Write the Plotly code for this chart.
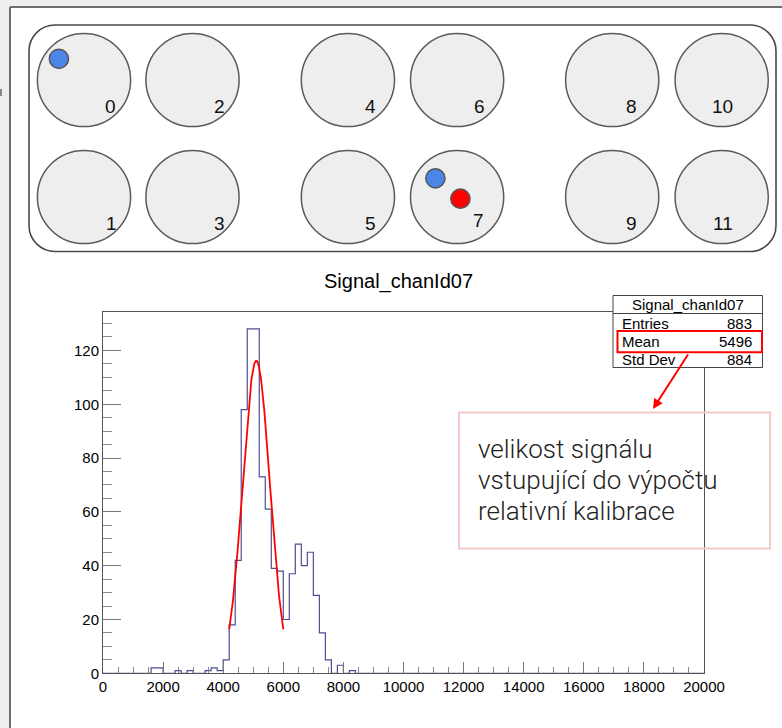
import numpy as np
import plotly.graph_objects as go

W, H = 782, 728

# Histogram Signal_chanId07: 100 bins of width 200 on [0, 20000]; only filled bins listed
x_min, x_max, n_bins = 0, 20000, 100
bin_low_edges = [1600, 1800, 2400, 2800, 3400, 3600, 3800, 4000, 4200, 4400,
                 4600, 4800, 5000, 5200, 5400, 5600, 5800, 6000, 6200, 6400,
                 6600, 6800, 7000, 7200, 7400, 7800, 8200]
bin_counts = [2, 2, 1, 1, 1, 2, 1, 5, 18, 42,
              98, 128, 128, 73, 61, 39, 38, 20, 37, 48,
              40, 45, 29, 15, 5, 3, 1]

# Gaussian fit of the main peak
fit_amplitude = 116.2
fit_mean = 5100.0
fit_sigma = 454.0
fit_range = (4200.0, 6000.0)

# Statistics box
stats_title = "Signal_chanId07"
stats_labels = ["Entries", "Mean", "Std Dev"]
stats_values = ["883", "5496", "884"]

# Detector layout: channel numbers per row
channel_rows = [[0, 2, 4, 6, 8, 10],
                [1, 3, 5, 7, 9, 11]]

note_lines = ["velikost signálu", "vstupující do výpočtu", "relativní kalibrace"]

FONT = "Liberation Sans, Arial, Helvetica, sans-serif"


def X(px):
    return px / W


def Y(py):
    return 1 - py / H


# ---- histogram data ----
bin_width = (x_max - x_min) / n_bins
counts = np.zeros(n_bins)
for edge, c in zip(bin_low_edges, bin_counts):
    counts[int(round((edge - x_min) / bin_width))] = c
edges = x_min + bin_width * np.arange(n_bins + 1)
step_y = np.append(counts, counts[-1])

fit_x = np.linspace(fit_range[0], fit_range[1], 300)
fit_y = fit_amplitude * np.exp(-0.5 * ((fit_x - fit_mean) / fit_sigma) ** 2)
y_top = 1.05 * counts.max()

fig = go.Figure()
fig.add_trace(go.Scatter(x=edges, y=step_y, mode="lines", line_shape="hv",
                         line=dict(color="#4d4d94", width=1.2), hoverinfo="skip"))
fig.add_trace(go.Scatter(x=fit_x, y=fit_y, mode="lines",
                         line=dict(color="#ff0000", width=1.8), hoverinfo="skip"))

shapes = []
annotations = []

# white panel on grey page (border only on the left and top edges)
shapes.append(dict(type="rect", xref="paper", yref="paper",
                   x0=X(10), y0=0, x1=1, y1=Y(7),
                   fillcolor="white", line=dict(width=0), layer="below"))
shapes.append(dict(type="line", xref="paper", yref="paper",
                   x0=X(10), y0=0, x1=X(10), y1=Y(7),
                   line=dict(color="#6e6e6e", width=2), layer="below"))
shapes.append(dict(type="line", xref="paper", yref="paper",
                   x0=X(10), y0=Y(7), x1=1, y1=Y(7),
                   line=dict(color="#6e6e6e", width=2), layer="below"))
# small mark at the left page edge
shapes.append(dict(type="line", xref="paper", yref="paper",
                   x0=X(1), y0=Y(89), x1=X(1), y1=Y(96),
                   line=dict(color="#666", width=1.5), layer="below"))


def rounded_rect_path(x0, y0, x1, y1, r):
    k = 0.5523 * r
    p = [f"M{X(x0 + r)},{Y(y0)}",
         f"L{X(x1 - r)},{Y(y0)}",
         f"C{X(x1 - r + k)},{Y(y0)} {X(x1)},{Y(y0 + r - k)} {X(x1)},{Y(y0 + r)}",
         f"L{X(x1)},{Y(y1 - r)}",
         f"C{X(x1)},{Y(y1 - r + k)} {X(x1 - r + k)},{Y(y1)} {X(x1 - r)},{Y(y1)}",
         f"L{X(x0 + r)},{Y(y1)}",
         f"C{X(x0 + r - k)},{Y(y1)} {X(x0)},{Y(y1 - r + k)} {X(x0)},{Y(y1 - r)}",
         f"L{X(x0)},{Y(y0 + r)}",
         f"C{X(x0)},{Y(y0 + r - k)} {X(x0 + r - k)},{Y(y0)} {X(x0 + r)},{Y(y0)}",
         "Z"]
    return " ".join(p)


shapes.append(dict(type="path", xref="paper", yref="paper",
                   path=rounded_rect_path(29, 25, 776, 251.5, 26),
                   fillcolor="white", line=dict(color="#4a4a4a", width=1.6),
                   layer="above"))

# detector circles with channel labels
col_centers = [84.0, 192.5, 347.9, 457.1, 612.2, 721.7]
row_centers = [80.0, 197.0]
radius = 46.6
label_offsets = {0: (110.7, 106.5), 2: (219.4, 106.5), 4: (370.3, 106.5),
                 6: (479.0, 106.5), 8: (631.2, 106.5), 10: (722.4, 106.5),
                 1: (111.0, 223.5), 3: (219.4, 223.5), 5: (370.8, 223.5),
                 7: (478.4, 220.5), 9: (631.7, 223.5), 11: (722.6, 223.5)}
for r_i, row in enumerate(channel_rows):
    cy = row_centers[r_i]
    for c_i, ch in enumerate(row):
        cx = col_centers[c_i]
        shapes.append(dict(type="circle", xref="paper", yref="paper",
                           x0=X(cx - radius), x1=X(cx + radius),
                           y0=Y(cy + radius), y1=Y(cy - radius),
                           fillcolor="#eeeeee", line=dict(color="#5a5a5a", width=1.5),
                           layer="above"))
        lx, ly = label_offsets[ch]
        annotations.append(dict(x=X(lx), y=Y(ly), xref="paper", yref="paper",
                                text=str(ch), showarrow=False,
                                xanchor="center", yanchor="middle",
                                font=dict(family=FONT, size=19, color="#111")))

# hit markers
for cx, cy, col in [(58.9, 58.8, "#4a86e8"), (435.4, 178.3, "#4a86e8"),
                    (460.4, 198.7, "#ff0000")]:
    rr = 9.6
    shapes.append(dict(type="circle", xref="paper", yref="paper",
                       x0=X(cx - rr), x1=X(cx + rr), y0=Y(cy + rr), y1=Y(cy - rr),
                       fillcolor=col, line=dict(color="#555", width=1.5),
                       layer="above"))

# histogram title
annotations.append(dict(x=X(398), y=Y(282), xref="paper", yref="paper",
                        text="Signal_chanId07", showarrow=False,
                        xanchor="center", yanchor="middle",
                        font=dict(family=FONT, size=20, color="#000")))

# statistics box
bx0, bx1, by0, by1, bdiv = 613, 762.5, 295.5, 367.5, 313.5
shapes.append(dict(type="rect", xref="paper", yref="paper",
                   x0=X(bx0), x1=X(bx1), y0=Y(by1), y1=Y(by0),
                   fillcolor="white", line=dict(color="#444", width=1),
                   layer="above"))
shapes.append(dict(type="line", xref="paper", yref="paper",
                   x0=X(bx0), x1=X(bx1), y0=Y(bdiv), y1=Y(bdiv),
                   line=dict(color="#444", width=1), layer="above"))
annotations.append(dict(x=X(688), y=Y(304.5), xref="paper", yref="paper",
                        text=stats_title, showarrow=False,
                        xanchor="center", yanchor="middle",
                        font=dict(family=FONT, size=15, color="#000")))
row_y = [323.0, 341.0, 359.5]
for lab, val, yy in zip(stats_labels, stats_values, row_y):
    annotations.append(dict(x=X(619.5), y=Y(yy), xref="paper", yref="paper",
                            text=lab, showarrow=False, xanchor="left", yanchor="middle",
                            font=dict(family=FONT, size=15, color="#000")))
    annotations.append(dict(x=X(754), y=Y(yy), xref="paper", yref="paper",
                            text=val, showarrow=False, xanchor="right", yanchor="middle",
                            font=dict(family=FONT, size=15, color="#000")))

# highlight of the Mean row
shapes.append(dict(type="rect", xref="paper", yref="paper",
                   x0=X(617.5), x1=X(762), y0=Y(352.3), y1=Y(331),
                   fillcolor="rgba(0,0,0,0)", line=dict(color="#ff0000", width=2),
                   layer="above"))

# note box
shapes.append(dict(type="rect", xref="paper", yref="paper",
                   x0=X(459), x1=X(770), y0=Y(548.5), y1=Y(412.5),
                   fillcolor="rgba(0,0,0,0)", line=dict(color="#f4c9c9", width=2),
                   layer="above"))
for line_text, yy in zip(note_lines, [448.5, 480.0, 511.0]):
    annotations.append(dict(x=X(476), y=Y(yy), xref="paper", yref="paper",
                            text=line_text, showarrow=False,
                            xanchor="left", yanchor="middle", align="left",
                            font=dict(family="Roboto, sans-serif", size=26,
                                      color="#222", weight=300)))

# arrow from the Mean row to the note
annotations.append(dict(x=X(653), y=Y(409), xref="paper", yref="paper",
                        text="", showarrow=True, arrowhead=2, arrowsize=1,
                        arrowwidth=2, arrowcolor="#ff0000",
                        ax=36, ay=-56))

axis_common = dict(showline=True, linecolor="#555", linewidth=1, mirror=True,
                   showgrid=False, zeroline=False, ticks="inside",
                   tickcolor="#777", tickwidth=1, tickformat="d",
                   automargin=False,
                   tickfont=dict(family=FONT, size=15, color="#000"))

fig.update_layout(
    width=W, height=H,
    autosize=False,
    margin=dict(l=0, r=0, t=0, b=0, pad=0),
    paper_bgcolor="#eeeeee",
    plot_bgcolor="rgba(0,0,0,0)",
    showlegend=False,
    hovermode=False,
    xaxis=dict(domain=[X(103), X(704)], range=[x_min, x_max],
               tick0=0, dtick=2000, ticklen=11,
               minor=dict(dtick=500, ticklen=6, ticks="inside", tickcolor="#888"),
               **axis_common),
    yaxis=dict(domain=[Y(673.3), Y(311.7)], range=[0, y_top],
               tick0=0, dtick=20, ticklen=18,
               minor=dict(dtick=5, ticklen=9, ticks="inside", tickcolor="#888"),
               **axis_common),
    shapes=shapes,
    annotations=annotations,
)

fig.write_html("out.html")
